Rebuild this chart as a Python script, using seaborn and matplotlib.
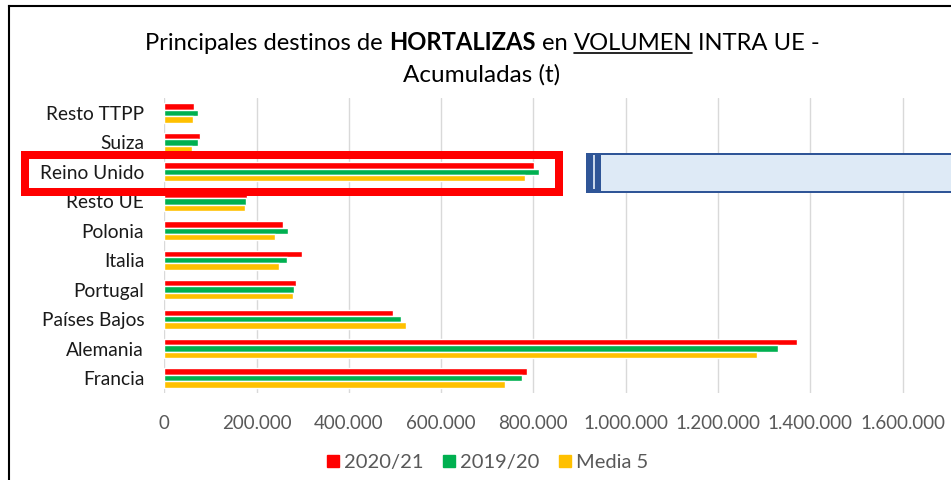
import matplotlib
matplotlib.use("Agg")
import matplotlib.pyplot as plt
import seaborn as sns
import pandas as pd
from matplotlib.patches import Rectangle
from matplotlib.lines import Line2D
from matplotlib.ticker import FuncFormatter

# ---------------- data ----------------
destinos = ["Resto TTPP", "Suiza", "Reino Unido", "Resto UE", "Polonia",
            "Italia", "Portugal", "Países Bajos", "Alemania", "Francia"]
v_2020_21 = [64000, 77000, 802000, 180000, 258000, 298000, 286000, 496000, 1372000, 787000]
v_2019_20 = [72000, 74000, 811000, 177000, 268000, 265000, 282000, 512000, 1329000, 776000]
v_media5 = [62000, 59000, 781000, 175000, 240000, 248000, 278000, 524000, 1284000, 739000]
series = ["2020/21", "2019/20", "Media 5"]
colores = ["#FF0000", "#00B050", "#FFC000"]
xticks = [0, 200000, 400000, 600000, 800000, 1000000, 1200000, 1400000, 1600000]
titulo_partes = [("Principales destinos de", "normal", False),
                 ("HORTALIZAS", "bold", False),
                 ("en", "normal", False),
                 ("VOLUMEN", "normal", True),
                 ("INTRA UE -", "normal", False)]
titulo_linea2 = "Acumuladas (t)"

df = pd.DataFrame({
    "Destino": destinos * 3,
    "Volumen": v_2020_21 + v_2019_20 + v_media5,
    "Serie": [series[0]] * len(destinos) + [series[1]] * len(destinos) + [series[2]] * len(destinos),
})

sns.set_theme(style="white")
plt.rcParams["font.family"] = ["Lato", "DejaVu Sans"]

W, H = 951, 480
fig = plt.figure(figsize=(W / 100, H / 100), dpi=100)
fig.patch.set_facecolor("white")

def fx(px):
    return px / W

def fy(py):
    return 1 - py / H

ax_left, ax_top, ax_bottom = 164.3, 98.3, 392.7
ax = fig.add_axes([fx(ax_left), fy(ax_bottom), 1 - fx(ax_left), (ax_bottom - ax_top) / H])

sns.barplot(data=df, y="Destino", x="Volumen", hue="Serie", hue_order=series,
            order=destinos, palette=colores, orient="h", width=0.65,
            saturation=1, ax=ax, legend=False, errorbar=None)

ax.set_xlim(0, 1705000)
ax.set_ylim(9.5, -0.5)
ax.set_xticks(xticks)
ax.xaxis.set_major_formatter(FuncFormatter(lambda v, p: f"{int(v):,}".replace(",", ".")))
ax.grid(axis="x", color="#D9D9D9", lw=1)
ax.grid(axis="y", visible=False)
ax.set_axisbelow(True)
for s in ax.spines.values():
    s.set_visible(False)
ax.set_xlabel("")
ax.set_ylabel("")
ax.tick_params(axis="x", length=0, pad=16, labelsize=13.5, labelcolor="#595959")
ax.tick_params(axis="y", length=0, pad=14.5, labelsize=13.8, labelcolor="#1a1a1a")

# legend
handles = [Line2D([0], [0], marker="s", color="none", markerfacecolor=c,
                  markeredgecolor=c, markersize=8.5) for c in colores]
leg = fig.legend(handles, series, loc="center", bbox_to_anchor=(fx(487), fy(462)),
                 ncol=3, frameon=False, fontsize=14.5, handlelength=0.7,
                 handletextpad=0.2, columnspacing=0.9, borderaxespad=0)
for t in leg.get_texts():
    t.set_color("#595959")

# frame lines of the chart object
fig.add_artist(Line2D([fx(9.3), fx(9.3)], [0, fy(6)], transform=fig.transFigure,
                      color="black", lw=1.5, solid_capstyle="projecting"))
fig.add_artist(Line2D([fx(9.3), 1], [fy(6), fy(6)], transform=fig.transFigure,
                      color="black", lw=1.5, solid_capstyle="projecting"))

# title built from pieces (bold and underlined words)
fig.canvas.draw()
renderer = fig.canvas.get_renderer()
tsize = 17.1

def text_width(s, weight):
    t = fig.text(0, 0, s, fontsize=tsize, fontweight=weight)
    w = t.get_window_extent(renderer).width
    t.remove()
    return w

space = text_width("n n", "normal") - text_width("nn", "normal")
widths = [text_width(s, w) for s, w, u in titulo_partes]
total = sum(widths) + space * (len(widths) - 1)
x = 482.5 - total / 2
base1, base2 = 49.5, 81.5
for (s, w, u), wd in zip(titulo_partes, widths):
    fig.text(fx(x), fy(base1), s, fontsize=tsize, fontweight=w, color="black",
             ha="left", va="baseline")
    if u:
        fig.add_artist(Line2D([fx(x), fx(x + wd)], [fy(base1 + 3), fy(base1 + 3)],
                              transform=fig.transFigure, color="black", lw=1.2))
    x += wd + space
fig.text(fx(482), fy(base2), titulo_linea2, fontsize=tsize + 0.4, color="black",
         ha="center", va="baseline")

# highlight box around "Reino Unido"
fig.add_artist(Rectangle((fx(24.9), fy(192.2)), fx(558.5) - fx(24.9), (192.2 - 155) / H,
                         transform=fig.transFigure, fill=False, edgecolor="#FF0000",
                         lw=8 * 0.72, joinstyle="miter", zorder=10))

# blue callout box on the right
fig.add_artist(Rectangle((fx(586.5), fy(191.5)), fx(970) - fx(586.5), (191.5 - 153.5) / H,
                         transform=fig.transFigure, facecolor="#DEEAF6", edgecolor="#2F5597",
                         lw=2 * 0.72, zorder=10))
fig.add_artist(Rectangle((fx(585.7), fy(192.3)), fx(601) - fx(585.7), (192.3 - 152.7) / H,
                         transform=fig.transFigure, facecolor="#2F5597", edgecolor="none",
                         zorder=11))
fig.add_artist(Rectangle((fx(592.7), fy(189.3)), fx(595.3) - fx(592.7), (189.3 - 155) / H,
                         transform=fig.transFigure, facecolor="#C9D7EA", edgecolor="none",
                         zorder=12))

fig.savefig("out.png", dpi=100, facecolor="white")
